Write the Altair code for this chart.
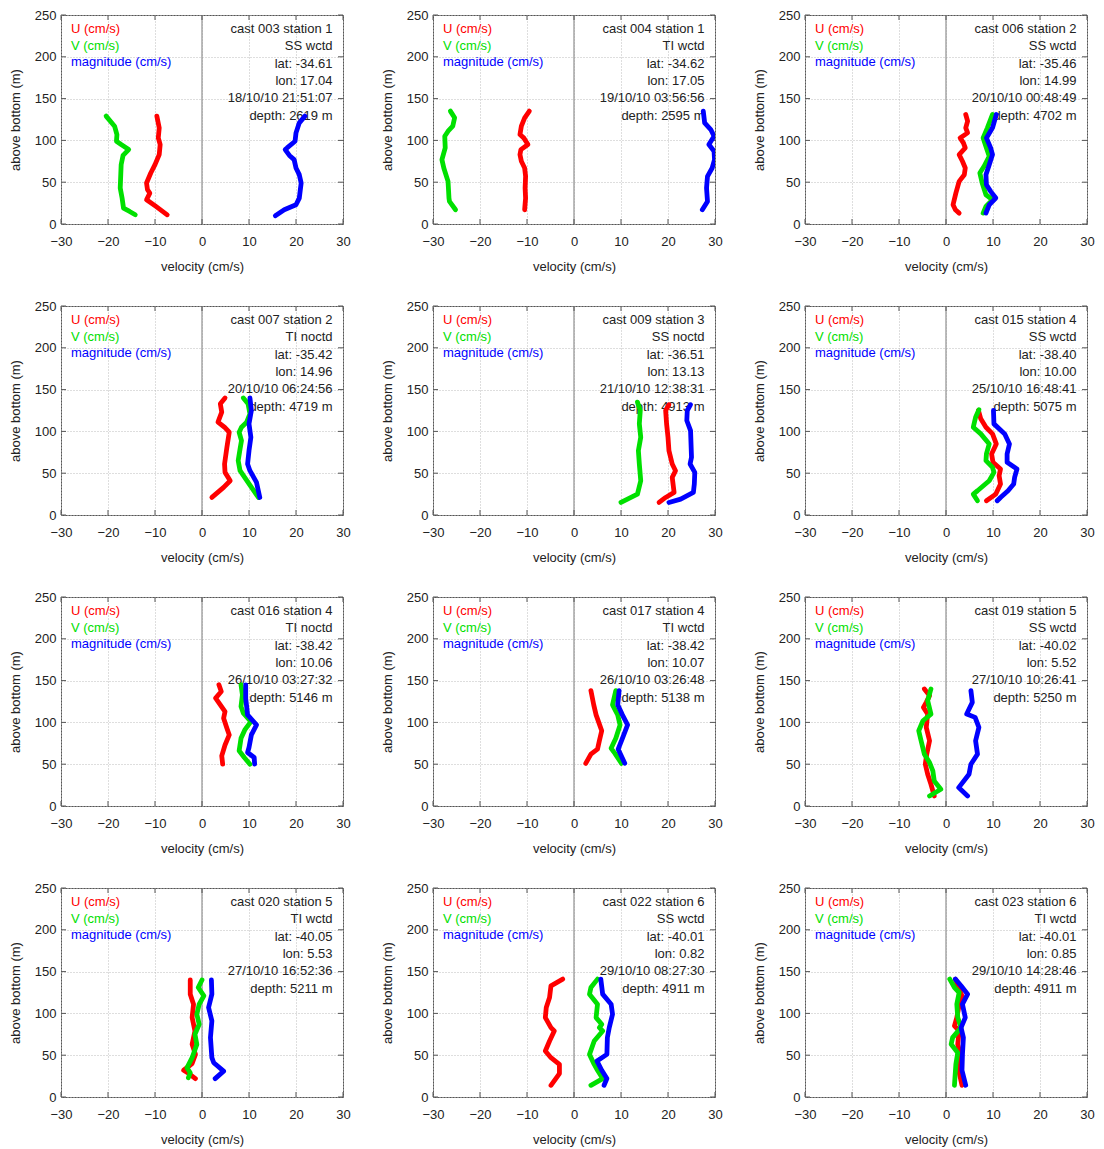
import altair as alt
import pandas as pd

# ---------------- data: (height above bottom [m], velocity [cm/s]) ----------------
c003_info = ["cast 003 station 1", "SS wctd", "lat: -34.61", "lon: 17.04", "18/10/10 21:51:07", "depth: 2619 m"]
c003_u = [(129,-9.6),(115,-9.1),(103,-9.3),(95,-8.9),(83,-9.1),(71,-10.0),(61,-10.9),(49,-11.8),(41,-11.6),(37,-11.1),(29,-11.8),(21,-9.8),(11,-7.4)]
c003_v = [(129,-20.4),(117,-18.6),(107,-18.1),(99,-18.2),(95,-17.2),(89,-15.6),(82,-16.8),(71,-17.2),(43,-17.4),(31,-17.0),(19,-16.7),(15,-15.4),(11,-14.2)]
c003_m = [(129,21.9),(121,20.7),(109,20.0),(99,19.8),(91,18.1),(89,17.7),(82,18.6),(77,19.6),(67,20.0),(59,20.7),(49,21.1),(31,20.7),(23,20.0),(17,17.5),(10,15.6)]

c004_info = ["cast 004 station 1", "TI wctd", "lat: -34.62", "lon: 17.05", "19/10/10 03:56:56", "depth: 2595 m"]
c004_u = [(135,-9.5),(127,-10.5),(117,-11.2),(107,-11.5),(103,-10.7),(95,-9.8),(89,-11.3),(83,-11.5),(75,-11.2),(67,-10.5),(57,-10.3),(43,-10.4),(31,-10.3),(17,-10.5)]
c004_v = [(135,-26.3),(127,-25.4),(117,-25.8),(111,-26.8),(105,-27.5),(91,-27.4),(77,-28.1),(67,-27.7),(51,-26.8),(31,-26.6),(27,-26.5),(17,-25.2)]
c004_m = [(135,27.5),(121,27.8),(113,29.1),(105,29.8),(95,28.7),(87,29.8),(77,29.9),(67,29.4),(57,28.4),(43,28.2),(27,28.4),(17,27.3)]

c006_info = ["cast 006 station 2", "SS wctd", "lat: -35.46", "lon: 14.99", "20/10/10 00:48:49", "depth: 4702 m"]
c006_u = [(131,4.2),(123,4.6),(115,4.2),(109,4.6),(103,3.0),(97,3.7),(91,4.1),(83,2.8),(75,3.5),(67,4.1),(59,3.9),(51,2.8),(37,2.1),(23,1.5),(17,2.0),(13,2.8)]
c006_v = [(131,9.9),(115,8.8),(103,7.9),(91,8.6),(81,9.2),(69,8.1),(61,7.2),(49,7.7),(35,8.5),(29,9.9),(21,8.5),(13,7.9)]
c006_m = [(131,10.7),(115,9.9),(103,8.6),(91,9.5),(83,9.9),(71,9.2),(59,8.5),(47,8.6),(39,9.5),(31,10.6),(23,9.2),(13,8.5)]

c007_info = ["cast 007 station 2", "TI noctd", "lat: -35.42", "lon: 14.96", "20/10/10 06:24:56", "depth: 4719 m"]
c007_u = [(140,4.9),(133,3.9),(123,4.2),(111,3.4),(105,4.8),(99,5.8),(81,5.3),(61,4.8),(51,4.9),(41,6.0),(33,4.6),(21,2.1)]
c007_v = [(140,8.8),(133,9.8),(121,10.2),(111,9.5),(105,8.4),(99,7.9),(89,8.4),(79,8.1),(65,7.7),(53,8.1),(39,9.8),(21,12.0)]
c007_m = [(140,10.2),(125,10.5),(109,10.0),(93,10.4),(77,10.0),(61,9.7),(53,10.2),(39,11.6),(21,12.3)]

c009_info = ["cast 009 station 3", "SS noctd", "lat: -36.51", "lon: 13.13", "21/10/10 12:38:31", "depth: 4913 m"]
c009_u = [(132,20.2),(125,19.5),(109,19.7),(93,20.0),(77,20.2),(61,20.9),(53,21.6),(45,20.9),(27,21.3),(21,19.5),(15,18.1)]
c009_v = [(135,13.5),(125,14.1),(109,13.9),(93,14.2),(77,13.7),(61,13.9),(41,14.2),(25,13.5),(15,10.0)]
c009_m = [(132,24.8),(125,24.1),(113,24.0),(101,24.8),(69,25.0),(61,24.7),(51,25.7),(37,25.6),(27,25.4),(19,22.7),(15,20.2)]

c015_info = ["cast 015 station 4", "SS wctd", "lat: -38.40", "lon: 10.00", "25/10/10 16:48:41", "depth: 5075 m"]
c015_u = [(125,6.9),(115,7.4),(105,8.5),(97,9.9),(85,10.7),(73,9.7),(63,10.0),(55,11.6),(47,11.3),(37,11.6),(25,10.6),(17,8.6)]
c015_v = [(126,7.0),(117,6.3),(105,5.8),(97,7.4),(85,9.2),(73,8.6),(65,8.5),(57,9.9),(51,10.2),(41,9.2),(29,6.7),(25,5.8),(17,6.7)]
c015_m = [(125,10.1),(109,10.2),(97,12.5),(85,13.5),(73,13.0),(63,13.0),(55,15.1),(45,14.6),(37,14.4),(29,13.2),(21,11.6),(17,10.9)]

c016_info = ["cast 016 station 4", "TI noctd", "lat: -38.42", "lon: 10.06", "26/10/10 03:27:32", "depth: 5146 m"]
c016_u = [(145,3.6),(137,4.1),(129,2.9),(121,3.9),(113,4.9),(105,4.6),(93,5.3),(85,5.8),(73,4.9),(60,4.2),(50,4.4)]
c016_v = [(145,8.3),(133,8.6),(119,8.3),(111,8.8),(101,10.4),(91,9.1),(81,8.3),(66,7.9),(58,9.0),(50,10.2)]
c016_m = [(145,9.3),(129,9.3),(109,9.7),(97,11.6),(85,10.5),(70,10.0),(64,9.7),(58,11.1),(50,11.2)]

c017_info = ["cast 017 station 4", "TI wctd", "lat: -38.42", "lon: 10.07", "26/10/10 03:26:48", "depth: 5138 m"]
c017_u = [(138,3.6),(121,4.2),(109,4.7),(90,5.9),(78,5.4),(68,5.0),(62,3.6),(51,2.5)]
c017_v = [(138,8.9),(121,8.2),(109,9.3),(97,9.8),(81,8.9),(69,7.9),(63,8.7),(51,10.1)]
c017_m = [(138,9.6),(121,9.3),(109,10.3),(97,11.4),(81,10.3),(68,9.4),(62,9.9),(51,10.8)]

c019_info = ["cast 019 station 5", "SS wctd", "lat: -40.02", "lon: 5.52", "27/10/10 10:26:41", "depth: 5250 m"]
c019_u = [(140,-4.6),(132,-3.5),(124,-4.2),(118,-4.8),(110,-3.9),(94,-4.2),(78,-3.5),(62,-4.1),(50,-4.4),(38,-3.9),(26,-3.2),(12,-2.5)]
c019_v = [(140,-3.2),(126,-3.9),(110,-3.2),(102,-4.9),(90,-5.8),(78,-5.3),(62,-4.6),(52,-3.5),(42,-2.8),(30,-2.5),(20,-1.1),(12,-3.5)]
c019_m = [(138,5.3),(124,5.6),(110,4.4),(106,6.2),(94,7.0),(78,6.3),(62,6.7),(50,5.3),(38,4.9),(22,2.7),(12,4.6)]

c020_info = ["cast 020 station 5", "TI wctd", "lat: -40.05", "lon: 5.53", "27/10/10 16:52:36", "depth: 5211 m"]
c020_u = [(140,-2.5),(123,-2.5),(111,-1.8),(95,-2.1),(79,-1.5),(63,-2.1),(51,-1.4),(40,-2.1),(32,-3.9),(28,-2.8),(22,-1.4)]
c020_v = [(140,0.0),(131,-0.8),(121,0.4),(111,-0.6),(99,-1.1),(87,-0.6),(75,-1.5),(63,-1.1),(47,-2.1),(35,-3.2),(29,-2.5),(23,-2.9)]
c020_m = [(140,2.0),(123,2.1),(107,1.4),(91,2.1),(71,1.8),(47,2.1),(41,2.5),(31,4.6),(22,2.8)]

c022_info = ["cast 022 station 6", "SS wctd", "lat: -40.01", "lon: 0.82", "29/10/10 08:27:30", "depth: 4911 m"]
c022_u = [(141,-2.4),(133,-4.9),(119,-5.2),(107,-5.9),(95,-6.1),(83,-4.9),(79,-4.2),(67,-5.2),(55,-6.1),(47,-4.9),(39,-3.1),(28,-3.1),(14,-4.9)]
c022_v = [(141,5.0),(131,3.6),(123,3.3),(111,5.0),(95,4.7),(87,5.9),(83,5.4),(79,6.1),(67,4.3),(51,3.3),(39,4.3),(32,5.0),(22,6.1),(14,3.6)]
c022_m = [(141,5.7),(123,6.1),(111,7.9),(99,8.2),(83,7.5),(71,7.1),(51,7.0),(43,4.9),(32,5.9),(22,7.0),(14,6.4)]

c023_info = ["cast 023 station 6", "TI wctd", "lat: -40.01", "lon: 0.85", "29/10/10 14:28:46", "depth: 4911 m"]
c023_u = [(141,2.0),(131,2.7),(121,3.4),(107,2.7),(95,2.3),(85,1.8),(79,2.8),(63,2.5),(47,3.2),(32,2.7),(14,3.4)]
c023_v = [(141,0.8),(131,1.8),(125,2.8),(111,2.3),(95,2.5),(83,3.2),(71,1.4),(63,1.1),(53,2.5),(39,2.1),(14,1.8)]
c023_m = [(141,2.0),(133,3.2),(123,4.6),(111,3.5),(95,4.1),(83,3.2),(71,3.7),(51,3.5),(32,3.4),(14,4.2)]

PANELS = [
    (c003_info, c003_u, c003_v, c003_m),
    (c004_info, c004_u, c004_v, c004_m),
    (c006_info, c006_u, c006_v, c006_m),
    (c007_info, c007_u, c007_v, c007_m),
    (c009_info, c009_u, c009_v, c009_m),
    (c015_info, c015_u, c015_v, c015_m),
    (c016_info, c016_u, c016_v, c016_m),
    (c017_info, c017_u, c017_v, c017_m),
    (c019_info, c019_u, c019_v, c019_m),
    (c020_info, c020_u, c020_v, c020_m),
    (c022_info, c022_u, c022_v, c022_m),
    (c023_info, c023_u, c023_v, c023_m),
]

SERIES_LABELS = ["U (cm/s)", "V (cm/s)", "magnitude (cm/s)"]
SERIES_COLORS = ["#ff0000", "#00e000", "#0000ff"]
X_TICKS = [-30, -20, -10, 0, 10, 20, 30]
Y_TICKS = [0, 50, 100, 150, 200, 250]

# ---------------- layout / style ----------------
W, H = 282, 209
FONT = "Liberation Sans"
FS = 13
FRAME = "#555555"
TICK_LEN = 5

xs = alt.Scale(domain=[-30, 30], nice=False, zero=False)
ys = alt.Scale(domain=[0, 250], nice=False, zero=False)
xax = alt.Axis(values=X_TICKS, title="velocity (cm/s)", labelPadding=11, titlePadding=12,
               grid=True, labelFlush=False)
yax = alt.Axis(values=Y_TICKS, title="above bottom (m)", labelPadding=5, titlePadding=12,
               grid=True)

xtick_df = pd.DataFrame({"vel": X_TICKS})
ytick_df = pd.DataFrame({"z": Y_TICKS})


def panel(info, u, v, m):
    zero = alt.Chart(pd.DataFrame({"vel": [0]})).mark_rule(
        color="#999999", strokeWidth=1.3
    ).encode(x=alt.X("vel:Q", scale=xs, axis=xax))

    # inward tick marks on all four sides of the frame (gnuplot style)
    xt_bottom = alt.Chart(xtick_df).mark_rule(color=FRAME, strokeWidth=1).encode(
        x=alt.X("vel:Q", scale=xs, axis=xax), y=alt.value(H), y2=alt.value(H - TICK_LEN))
    xt_top = alt.Chart(xtick_df).mark_rule(color=FRAME, strokeWidth=1).encode(
        x=alt.X("vel:Q", scale=xs, axis=xax), y=alt.value(0), y2=alt.value(TICK_LEN))
    yt_left = alt.Chart(ytick_df).mark_rule(color=FRAME, strokeWidth=1).encode(
        y=alt.Y("z:Q", scale=ys, axis=yax), x=alt.value(0), x2=alt.value(TICK_LEN))
    yt_right = alt.Chart(ytick_df).mark_rule(color=FRAME, strokeWidth=1).encode(
        y=alt.Y("z:Q", scale=ys, axis=yax), x=alt.value(W), x2=alt.value(W - TICK_LEN))

    layers = [zero, xt_bottom, xt_top, yt_left, yt_right]
    for i, lab in enumerate(SERIES_LABELS):
        layers.append(
            alt.Chart(pd.DataFrame({"t": [lab]})).mark_text(
                align="left", baseline="middle", font=FONT, fontSize=FS,
                color=SERIES_COLORS[i]
            ).encode(text="t:N", x=alt.value(10), y=alt.value(13.7 + 16.8 * i))
        )
    layers.append(
        alt.Chart(pd.DataFrame({"t": ["\n".join(info)]})).mark_text(
            align="right", baseline="middle", font=FONT, fontSize=FS,
            color="#222222", lineBreak="\n", lineHeight=17.45
        ).encode(text="t:N", x=alt.value(W - 10.5), y=alt.value(13.7))
    )
    for vals, col in zip((u, v, m), SERIES_COLORS):
        df = pd.DataFrame(vals, columns=["z", "vel"])
        layers.append(
            alt.Chart(df).mark_line(
                color=col, strokeWidth=4.8, clip=True,
                strokeCap="round", strokeJoin="round"
            ).encode(
                x=alt.X("vel:Q", scale=xs, axis=xax),
                y=alt.Y("z:Q", scale=ys, axis=yax),
                order=alt.Order("z:Q"),
            )
        )
    return alt.layer(*layers).properties(width=W, height=H)


charts = [panel(*p) for p in PANELS]

chart = alt.concat(
    *charts, columns=3, spacing={"row": 82, "column": 90}, bounds="flush"
).properties(
    padding={"left": 0, "top": 0, "right": 0, "bottom": 0},
    background="white"
).configure_view(
    stroke=FRAME, strokeWidth=1
).configure_axis(
    labelFont=FONT, titleFont=FONT, labelFontSize=FS, titleFontSize=FS,
    titleFontWeight="normal", labelColor="#222222", titleColor="#222222",
    gridColor="#bdbdbd", gridDash=[1, 2], gridWidth=1,
    domain=False, ticks=False, tickSize=0
)

chart.save("out.html", embed_options={"renderer": "svg", "actions": False})
